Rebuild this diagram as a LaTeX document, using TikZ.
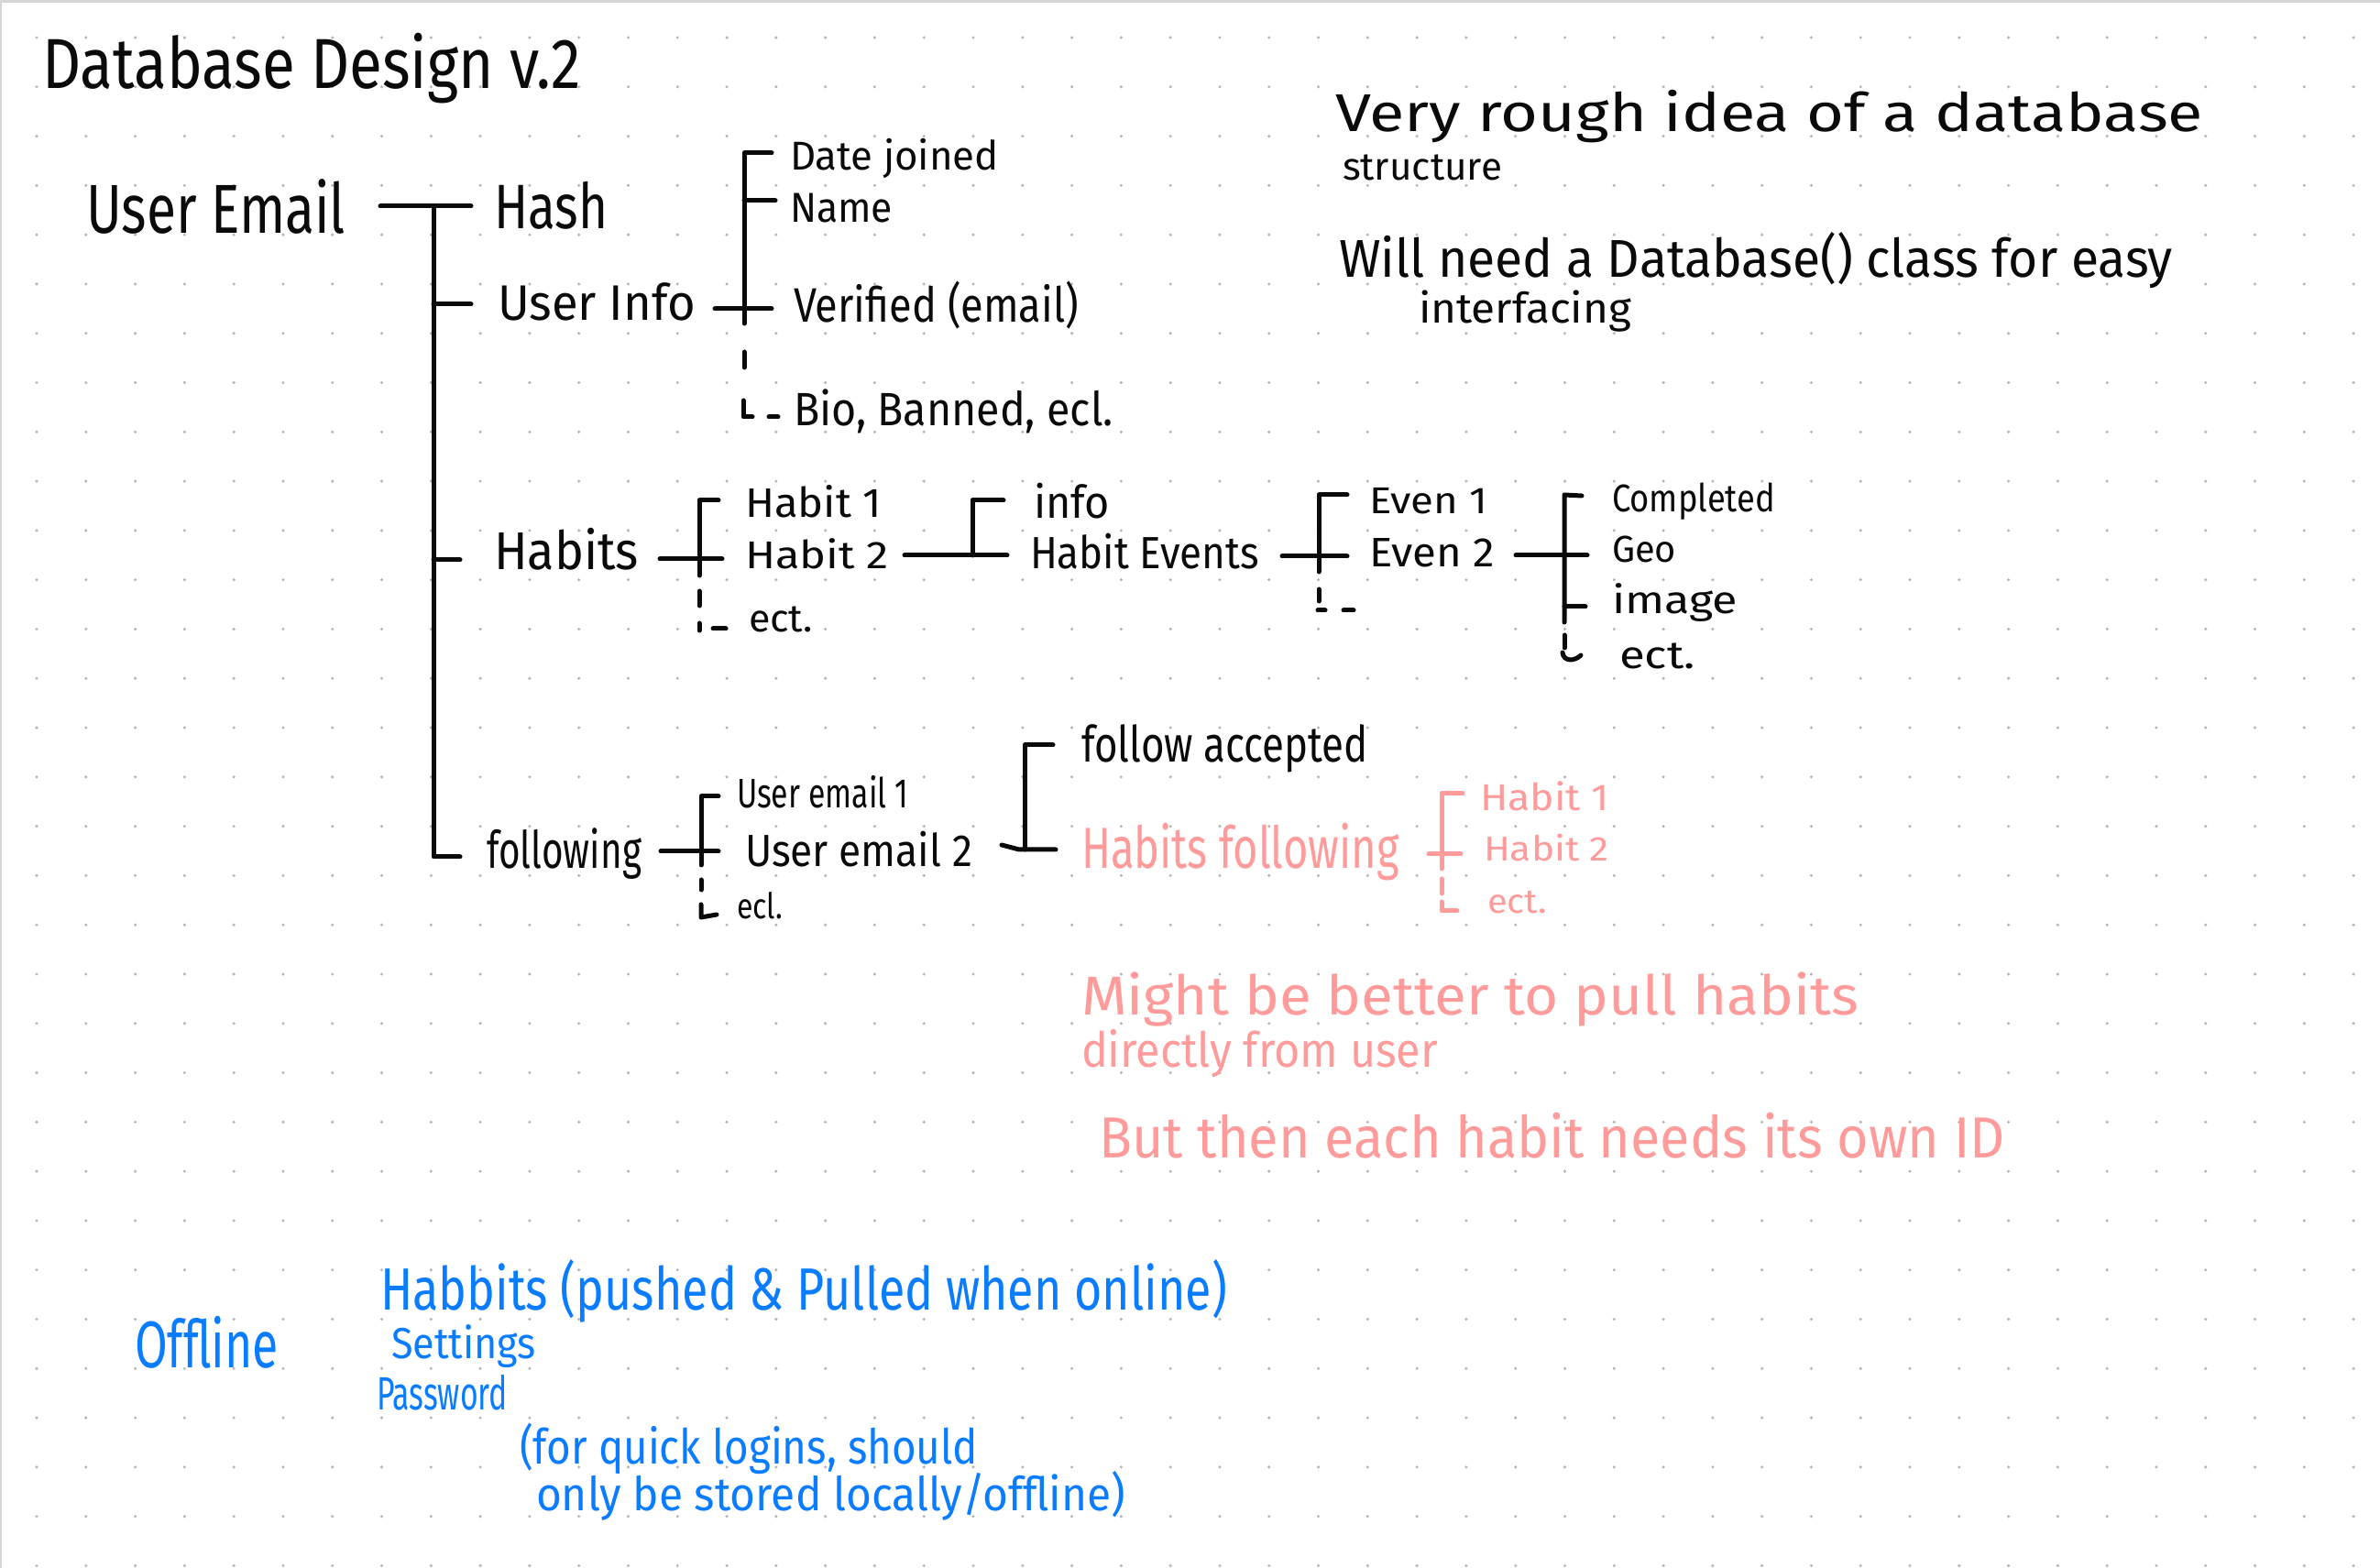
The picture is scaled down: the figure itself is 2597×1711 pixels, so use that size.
\documentclass[tikz,border=0pt]{standalone}
\usepackage{fontspec}
\setmainfont{Fira Sans}
\usepackage{graphicx}
\newlength\hwpx
\setlength\hwpx{0.1mm}
\newcommand\hwt[3]{\resizebox{#1\hwpx}{\height}{\fontsize{#2}{#2}\selectfont #3}}
\definecolor{ink}{HTML}{0A0A0A}
\definecolor{pinkc}{HTML}{FF9B9B}
\definecolor{bluec}{HTML}{0A7CFF}
\definecolor{dotc}{HTML}{B5B5B5}
\definecolor{edgec}{HTML}{D6D6D6}
\begin{document}
\begin{tikzpicture}[x=0.1mm,y=-0.1mm,
  txt/.style={anchor=base west, inner sep=0pt, outer sep=0pt, text=ink},
  ptxt/.style={txt, text=pinkc},
  btxt/.style={txt, text=bluec},
  ln/.style={line width=0.5mm, line cap=round, line join=round, draw=ink},
  pln/.style={ln, draw=pinkc}]
% page
\useasboundingbox (0,0) rectangle (2597,1711);
\fill[white] (0,0) rectangle (2597,1711);
\fill[edgec] (0,0) rectangle (2597,3);
\fill[edgec] (0,0) rectangle (2,1711);
% dot grid
\foreach \i in {0,...,47}{
  \foreach \j in {0,...,31}{
    \fill[dotc] ({40+53.79*\i},{41+53.79*\j}) circle[radius=1.7];
  }
}
% ---------- main tree ----------
\coordinate (rootL) at (415,225);
\coordinate (rootJ) at (473,225);
\coordinate (rootR) at (514,225);
\coordinate (rootB) at (473,935);
\draw[ln] (rootL) -- (rootR);
\draw[ln] (rootJ) -- (rootB) -- ++(29,0);
\draw[ln] (473,332) -- (514,332);
\draw[ln] (473,611) -- (502,611);
% user info bracket
\coordinate (uiT) at (812,167);
\coordinate (uiB) at (812,353);
\draw[ln] (780,337) -- (842,337);
\draw[ln] (842,167) -- (uiT) -- (uiB);
\draw[ln] (812,219) -- (846,219);
\draw[ln] (812,384) -- (812,401);
\draw[ln] (811,437) -- (811,455) -- (821,455);
\draw[ln] (839,455) -- (849,455);
% habits bracket
\coordinate (hbT) at (763,546);
\coordinate (hbB) at (763,628);
\draw[ln] (720,610) -- (788,610);
\draw[ln] (784,546) -- (hbT) -- (hbB);
\draw[ln] (763,645) -- (763,661);
\draw[ln] (763,680) -- (763,688);
\draw[ln] (778,686) -- (792,686);
% habit 2 -> info / events
\coordinate (h2T) at (1061,546);
\coordinate (h2B) at (1061,606);
\draw[ln] (987,606) -- (1099,606);
\draw[ln] (1095,546) -- (h2T) -- (h2B);
% habit events bracket
\coordinate (heT) at (1439,540);
\coordinate (heB) at (1439,624);
\draw[ln] (1399,607) -- (1470,607);
\draw[ln] (1470,540) -- (heT) -- (heB);
\draw[ln] (1439,643) -- (1439,656);
\draw[ln] (1438,666) -- (1446,666);
\draw[ln] (1466,666) -- (1477,666);
% even 2 bracket
\coordinate (e2T) at (1707,540);
\coordinate (e2B) at (1707,679);
\draw[ln] (1654,606) -- (1732,606);
\draw[ln] (1726,541) -- (e2T) -- (e2B);
\draw[ln] (1707,662) -- (1730,662);
\draw[ln] (1707,693) -- (1707,707);
\draw[ln] (1705,712) .. controls (1706,722) and (1718,722) .. (1725,715);
% following bracket
\coordinate (fT) at (765,869);
\coordinate (fB) at (765,944);
\draw[ln] (721,929) -- (784,929);
\draw[ln] (784,869) -- (fT) -- (fB);
\draw[ln] (765,960) -- (765,971);
\draw[ln] (765,987) -- (765,1001) -- (782,998);
% user email 2 bracket
\coordinate (u2T) at (1118,813);
\coordinate (u2B) at (1118,927);
\draw[ln] (1093,922) -- (1112,927) -- (1152,927);
\draw[ln] (1149,813) -- (u2T) -- (u2B);
% pink bracket
\coordinate (pT) at (1573,866);
\coordinate (pB) at (1573,948);
\draw[pln] (1559,932) -- (1594,932);
\draw[pln] (1596,866) -- (pT) -- (pB);
\draw[pln] (1573,959) -- (1573,975);
\draw[pln] (1573,984) -- (1573,994) -- (1590,994);
% ---------- black text ----------
\node[txt] (title) at (46,97) {\hwt{588}{22pt}{Database Design v.2}};
\node[txt] (ue) at (94,255) {\hwt{283}{21.5pt}{User Email}};
\node[txt] (hash) at (539,250) {\hwt{124}{19.5pt}{Hash}};
\node[txt] (uinfo) at (543,350) {\hwt{216}{15.5pt}{User Info}};
\node[txt] (date) at (862,186) {\hwt{228}{12.5pt}{Date joined}};
\node[txt] (name) at (862,243) {\hwt{112}{13pt}{Name}};
\node[txt] (verif) at (866,352) {\hwt{311}{15pt}{Verified (email)}};
\node[txt] (bio) at (866,465) {\hwt{349}{14.5pt}{Bio, Banned, ecl.}};
\node[txt] (habits) at (539,622) {\hwt{158}{16.5pt}{Habits}};
\node[txt] (hab1) at (813,565) {\hwt{149}{12.8pt}{Habit 1}};
\node[txt] (hab2) at (813,621) {\hwt{157}{12pt}{Habit 2}};
\node[txt] (hect) at (817,690) {\hwt{70}{12pt}{ect.}};
\node[txt] (info) at (1128,566) {\hwt{83}{14pt}{info}};
\node[txt] (hev) at (1124,621) {\hwt{250}{14pt}{Habit Events}};
\node[txt] (ev1) at (1494,561) {\hwt{129}{11.6pt}{Even 1}};
\node[txt] (ev2) at (1494,619) {\hwt{137}{12.8pt}{Even 2}};
\node[txt] (comp) at (1759,559) {\hwt{178}{12pt}{Completed}};
\node[txt] (geo) at (1759,614) {\hwt{70}{11.6pt}{Geo}};
\node[txt] (img) at (1759,670) {\hwt{137}{12pt}{image}};
\node[txt] (eect) at (1767,730) {\hwt{83}{12pt}{ect.}};
\node[txt] (foll) at (531,948) {\hwt{169}{16pt}{following}};
\node[txt] (ue1) at (804,882) {\hwt{187}{12.8pt}{User email 1}};
\node[txt] (ue2) at (813,946) {\hwt{248}{14pt}{User email 2}};
\node[txt] (fect) at (804,1003) {\hwt{50}{11pt}{ecl.}};
\node[txt] (facc) at (1180,832) {\hwt{313}{15.5pt}{follow accepted}};
\node[txt] (rough) at (1457,144) {\hwt{947}{16.5pt}{Very rough idea of a database}};
\node[txt] (struct) at (1465,197) {\hwt{174}{12pt}{structure}};
\node[txt] (will) at (1461,303) {\hwt{910}{16.5pt}{Will need a Database() class for easy}};
\node[txt] (intf) at (1548,353) {\hwt{232}{13pt}{interfacing}};
% ---------- pink text ----------
\node[ptxt] (hf) at (1180,948) {\hwt{347}{18pt}{Habits following}};
\node[ptxt] (ph1) at (1615,885) {\hwt{141}{11.6pt}{Habit 1}};
\node[ptxt] (ph2) at (1619,940) {\hwt{137}{10.7pt}{Habit 2}};
\node[ptxt] (pect) at (1623,997) {\hwt{65}{10.5pt}{ect.}};
\node[ptxt] (might) at (1180,1108) {\hwt{848}{17pt}{Might be better to pull habits}};
\node[ptxt] (direct) at (1180,1165) {\hwt{389}{15pt}{directly from user}};
\node[ptxt] (but) at (1199,1264) {\hwt{989}{18pt}{But then each habit needs its own ID}};
% ---------- blue text ----------
\node[btxt] (off) at (147,1492) {\hwt{157}{20.5pt}{Offline}};
\node[btxt] (hp) at (415,1430) {\hwt{924}{18.5pt}{Habbits (pushed \& Pulled when online)}};
\node[btxt] (set) at (427,1483) {\hwt{158}{13.5pt}{Settings}};
\node[btxt] (pw) at (411,1538) {\hwt{143}{14.5pt}{Password}};
\node[btxt] (quick) at (567,1598) {\hwt{500}{15pt}{(for quick logins, should}};
\node[btxt] (only) at (585,1648) {\hwt{643}{14.5pt}{only be stored locally/offline)}};
\end{tikzpicture}
\end{document}
